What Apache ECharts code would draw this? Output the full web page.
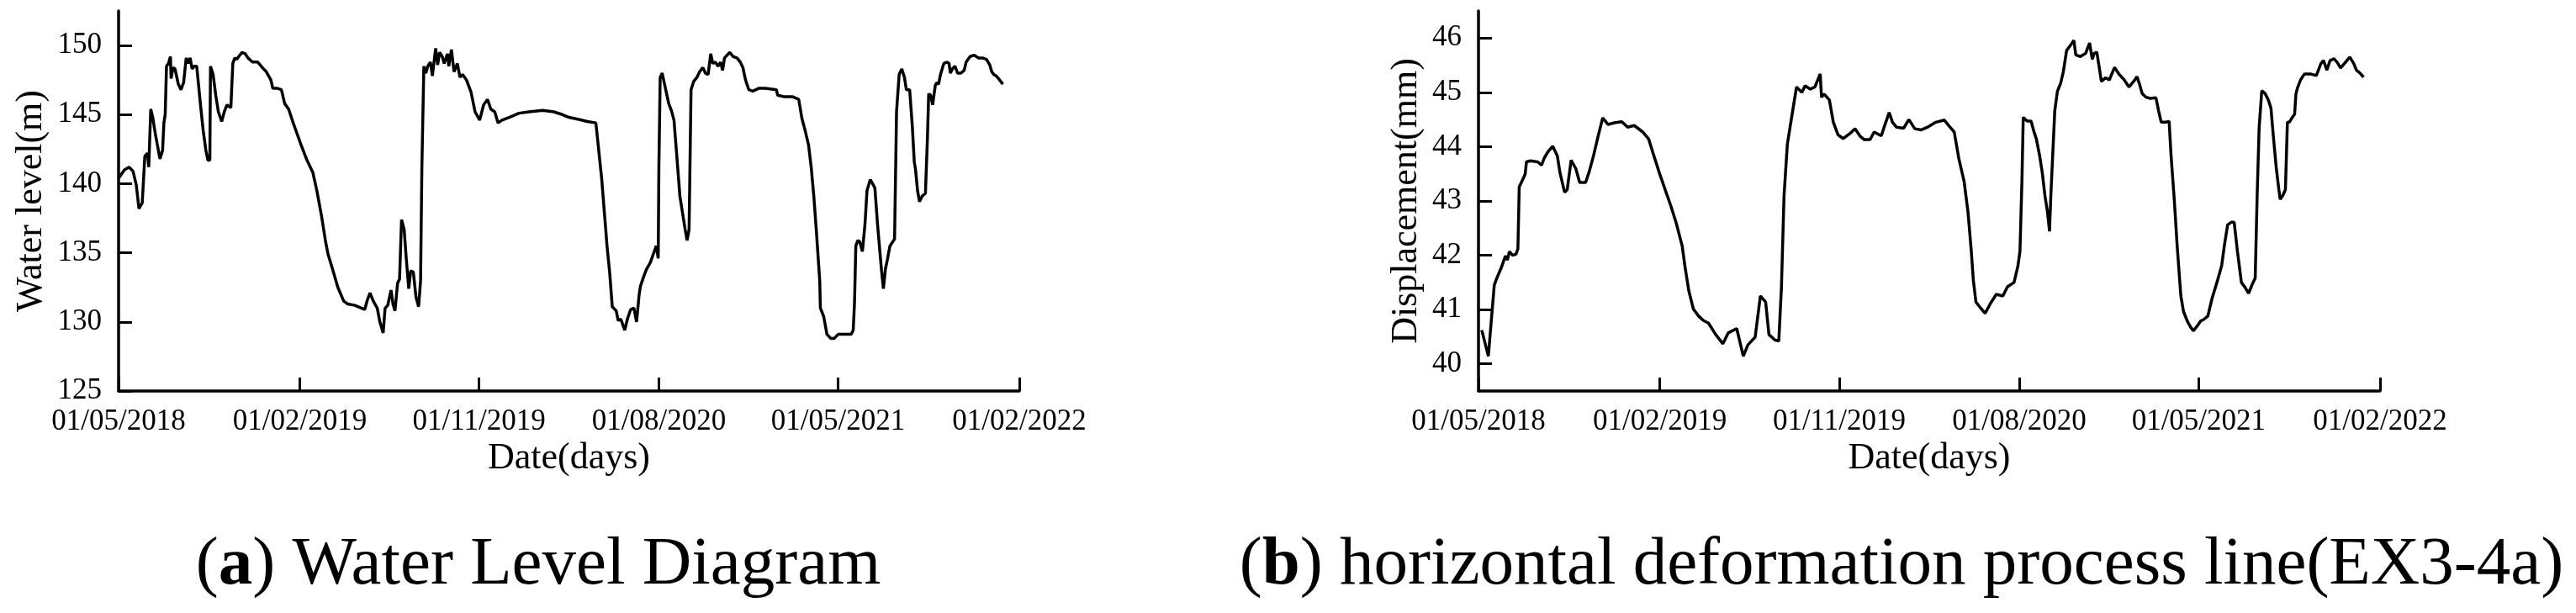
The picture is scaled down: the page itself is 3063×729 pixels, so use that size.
<!DOCTYPE html>
<html>
<head>
<meta charset="utf-8">
<title>Water level and displacement</title>
<script src="https://cdn.jsdelivr.net/npm/echarts@6/dist/echarts.min.js"></script>
<style>
  html, body { margin: 0; padding: 0; background: #fff; }
  #chart { width: 3063px; height: 729px; }
</style>
</head>
<body>
<div id="chart"></div>
<script>
// days counted from 01/05/2018
const startDate = '2018-05-01';

// (a) reservoir water level (m)
const waterDays = [0, 9, 16, 22, 27, 31, 36, 40, 44, 46, 49, 52, 56, 63, 67, 69, 71, 73, 76, 79, 80, 83, 86, 91, 95, 99, 103, 106, 109, 112, 115, 119, 125, 129, 133, 136, 139, 140, 144, 148, 152, 157, 161, 165, 171, 174, 177, 180, 183, 188, 193, 197, 204, 212, 219, 225, 232, 235, 242, 248, 253, 259, 266, 272, 278, 287, 296, 302, 309, 315, 319, 326, 334, 343, 349, 360, 375, 379, 383, 388, 394, 398, 403, 406, 410, 415, 418, 421, 425, 428, 431, 435, 438, 442, 445, 449, 453, 457, 460, 462, 465, 468, 471, 475, 478, 483, 486, 489, 493, 496, 501, 503, 507, 511, 516, 520, 524, 530, 537, 543, 550, 556, 562, 567, 573, 578, 584, 595, 610, 625, 646, 663, 676, 686, 701, 714, 727, 731, 736, 740, 744, 748, 752, 758, 761, 765, 771, 775, 780, 785, 789, 793, 795, 800, 804, 810, 816, 819, 822, 823, 825, 828, 833, 838, 842, 846, 850, 855, 859, 863, 866, 869, 872, 876, 881, 885, 890, 894, 898, 902, 905, 909, 913, 917, 920, 923, 931, 936, 942, 947, 951, 955, 960, 966, 975, 985, 1002, 1004, 1013, 1026, 1036, 1041, 1045, 1051, 1055, 1059, 1063, 1068, 1069, 1074, 1079, 1085, 1090, 1096, 1105, 1116, 1119, 1121, 1123, 1126, 1129, 1133, 1137, 1140, 1145, 1152, 1156, 1162, 1165, 1168, 1171, 1175, 1182, 1185, 1189, 1193, 1197, 1200, 1205, 1209, 1212, 1214, 1217, 1220, 1224, 1229, 1232, 1234, 1237, 1240, 1244, 1246, 1249, 1252, 1257, 1262, 1265, 1267, 1270, 1274, 1278, 1283, 1288, 1291, 1297, 1303, 1310, 1316, 1322, 1327, 1330, 1333, 1337, 1342, 1347];
const waterLevel = [140.4, 141.0, 141.2, 140.9, 139.9, 138.2, 138.6, 142.0, 142.2, 141.2, 145.4, 144.8, 143.6, 141.8, 142.4, 144.4, 145.0, 148.5, 148.7, 149.2, 147.6, 148.4, 148.3, 147.2, 146.8, 147.3, 149.1, 148.7, 149.1, 148.3, 148.5, 148.5, 145.6, 143.8, 142.4, 141.7, 141.7, 148.5, 147.9, 146.4, 145.2, 144.5, 145.2, 145.7, 145.5, 148.7, 149.1, 149.0, 149.2, 149.5, 149.4, 149.1, 148.8, 148.8, 148.4, 148.1, 147.5, 146.9, 146.9, 146.8, 145.8, 145.4, 144.4, 143.6, 142.8, 141.7, 140.8, 139.5, 137.7, 135.9, 134.9, 133.8, 132.5, 131.5, 131.3, 131.2, 130.9, 131.6, 132.1, 131.5, 131.0, 130.0, 129.2, 131.0, 131.2, 132.3, 131.3, 130.8, 132.8, 133.1, 137.4, 136.7, 134.7, 132.4, 133.7, 133.6, 131.8, 131.1, 133.0, 141.2, 148.5, 148.0, 148.5, 148.8, 147.8, 149.8, 148.6, 149.5, 149.2, 148.7, 149.4, 148.5, 149.7, 148.1, 148.7, 147.7, 147.9, 147.5, 146.6, 145.2, 144.6, 145.7, 146.1, 145.4, 145.2, 144.4, 144.6, 144.8, 145.1, 145.2, 145.3, 145.2, 145.0, 144.8, 144.65, 144.5, 144.4, 142.6, 140.3, 137.9, 135.5, 133.6, 131.1, 130.8, 130.1, 130.2, 129.4, 130.2, 130.9, 131.0, 130.0, 132.0, 132.6, 133.3, 133.8, 134.3, 135.1, 135.5, 134.6, 141.2, 147.7, 148.0, 146.9, 145.8, 145.3, 144.6, 142.2, 139.1, 137.9, 136.7, 135.9, 136.7, 146.8, 147.4, 147.7, 148.1, 148.4, 148.0, 147.9, 149.4, 148.7, 148.8, 148.5, 148.8, 148.2, 149.1, 149.5, 149.2, 149.1, 148.8, 148.4, 147.5, 146.8, 146.7, 146.9, 146.9, 146.8, 146.4, 146.3, 146.3, 146.1, 144.7, 144.0, 142.8, 141.2, 139.1, 136.5, 133.0, 131.0, 130.4, 129.1, 128.8, 128.8, 129.1, 129.1, 129.1, 129.4, 131.4, 135.5, 135.9, 135.8, 135.1, 137.1, 139.5, 140.3, 139.7, 137.1, 133.8, 132.4, 133.8, 134.5, 135.5, 136.0, 145.2, 147.9, 148.3, 147.7, 146.8, 146.8, 144.2, 141.6, 141.0, 139.5, 138.7, 139.1, 139.3, 143.2, 146.5, 146.4, 145.7, 147.1, 147.3, 147.2, 147.9, 148.7, 148.8, 148.7, 148.0, 148.3, 148.5, 148.0, 148.0, 148.2, 148.8, 149.2, 149.3, 149.1, 149.1, 149.0, 148.6, 148.1, 147.9, 147.8, 147.5, 147.2];

// (b) horizontal displacement EX3-4a (mm)
const dispDays = [5, 15, 24, 28, 35, 41, 44, 47, 52, 57, 60, 62, 66, 71, 73, 79, 90, 96, 100, 106, 113, 120, 124, 131, 135, 141, 148, 154, 163, 168, 175, 182, 189, 197, 207, 218, 227, 237, 250, 259, 267, 276, 284, 293, 301, 310, 314, 320, 327, 335, 342, 350, 361, 372, 380, 393, 403, 410, 421, 429, 437, 442, 451, 457, 461, 465, 470, 476, 484, 492, 497, 505, 512, 520, 522, 526, 534, 540, 547, 555, 566, 573, 581, 587, 596, 602, 613, 619, 625, 630, 636, 647, 655, 664, 674, 685, 696, 709, 717, 724, 731, 739, 745, 750, 753, 757, 764, 771, 779, 788, 798, 805, 815, 821, 824, 827, 829, 835, 841, 845, 849, 854, 858, 862, 866, 869, 871, 875, 877, 881, 886, 890, 895, 901, 906, 909, 916, 924, 930, 934, 937, 941, 948, 954, 960, 968, 975, 982, 990, 997, 1002, 1006, 1010, 1016, 1022, 1031, 1035, 1039, 1046, 1051, 1054, 1059, 1063, 1067, 1069, 1073, 1079, 1084, 1088, 1094, 1099, 1104, 1110, 1116, 1125, 1131, 1135, 1140, 1146, 1150, 1155, 1161, 1167, 1172, 1177, 1182, 1185, 1188, 1192, 1197, 1202, 1206, 1210, 1214, 1218, 1220, 1224, 1228, 1231, 1234, 1238, 1242, 1244, 1246, 1251, 1257, 1266, 1275, 1282, 1286, 1291, 1296, 1302, 1307, 1312, 1319, 1326, 1332, 1336, 1341, 1347];
const displacement = [40.62, 40.14, 41.45, 41.58, 41.78, 41.99, 41.91, 42.07, 42.0, 42.02, 42.12, 43.26, 43.36, 43.49, 43.72, 43.74, 43.72, 43.66, 43.79, 43.91, 44.01, 43.83, 43.52, 43.16, 43.21, 43.75, 43.6, 43.34, 43.34, 43.52, 43.83, 44.19, 44.53, 44.41, 44.44, 44.46, 44.36, 44.39, 44.27, 44.14, 43.83, 43.49, 43.21, 42.9, 42.59, 42.17, 41.81, 41.35, 41.01, 40.88, 40.8, 40.75, 40.54, 40.37, 40.57, 40.65, 40.14, 40.35, 40.49, 41.25, 41.14, 40.54, 40.44, 40.42, 41.4, 43.1, 44.04, 44.5, 45.1, 45.0, 45.12, 45.06, 45.1, 45.34, 44.91, 44.97, 44.86, 44.45, 44.22, 44.15, 44.25, 44.33, 44.19, 44.13, 44.13, 44.27, 44.2, 44.42, 44.63, 44.45, 44.36, 44.34, 44.5, 44.33, 44.31, 44.37, 44.45, 44.49, 44.37, 44.27, 43.78, 43.36, 42.79, 42.07, 41.55, 41.14, 41.03, 40.93, 41.11, 41.28, 41.25, 41.42, 41.5, 41.81, 42.07, 43.36, 44.54, 44.47, 44.47, 44.29, 44.14, 43.83, 43.52, 43.1, 42.79, 42.44, 43.1, 44.14, 44.66, 45.02, 45.17, 45.38, 45.77, 45.87, 45.96, 45.69, 45.66, 45.72, 45.91, 45.61, 45.72, 45.74, 45.2, 45.27, 45.23, 45.46, 45.33, 45.24, 45.1, 45.2, 45.29, 45.15, 44.98, 44.91, 44.89, 44.9, 44.66, 44.45, 44.45, 44.47, 43.83, 43.0, 42.22, 41.55, 41.24, 40.96, 40.78, 40.67, 40.61, 40.7, 40.79, 40.82, 40.88, 41.19, 41.55, 41.81, 42.17, 42.56, 42.61, 42.61, 42.07, 41.5, 41.4, 41.3, 41.45, 41.58, 43.1, 44.35, 45.03, 44.98, 44.86, 44.71, 44.14, 43.62, 43.21, 43.03, 43.1, 43.21, 44.45, 44.45, 44.53, 44.6, 44.97, 45.07, 45.23, 45.34, 45.34, 45.31, 45.53, 45.59, 45.41, 45.59, 45.62, 45.55, 45.45, 45.55, 45.65, 45.53, 45.41, 45.36, 45.28];

// axis ticks
const tickDates = ['2018-05-01', '2019-02-01', '2019-11-01', '2020-08-01', '2021-05-01', '2022-02-01'];
const tickLabels = ['01/05/2018', '01/02/2019', '01/11/2019', '01/08/2020', '01/05/2021', '01/02/2022'];
const waterTicks = [125, 130, 135, 140, 145, 150];
const dispTicks = [40, 41, 42, 43, 44, 45, 46];

const FONT = '"Liberation Serif", "Times New Roman", serif';
const DAY = 86400000;

function toUTC(s) {
  const p = s.split('-').map(Number);
  return Date.UTC(p[0], p[1] - 1, p[2]);
}
const t0 = toUTC(startDate);
const tickDays = tickDates.map(d => Math.round((toUTC(d) - t0) / DAY));

function zip(xs, ys) {
  return xs.map((x, i) => [x, ys[i]]);
}

const axisLine = { show: true, lineStyle: { color: '#000', width: 3.5 } };
const axisTickBase = { show: true, inside: true, length: 16, lineStyle: { color: '#000', width: 3 } };

function makeX(gridIndex) {
  return {
    type: 'value',
    gridIndex: gridIndex,
    min: 0,
    max: tickDays[tickDays.length - 1],
    name: 'Date(days)',
    nameLocation: 'middle',
    nameGap: 43,
    nameTextStyle: { fontFamily: FONT, fontSize: 44, color: '#000' },
    axisLine: axisLine,
    axisTick: Object.assign({ customValues: tickDays }, axisTickBase),
    axisLabel: {
      customValues: tickDays,
      margin: 19,
      fontFamily: FONT,
      fontSize: 35,
      color: '#000',
      formatter: v => tickLabels[tickDays.indexOf(Math.round(v))] || ''
    },
    splitLine: { show: false }
  };
}

function makeY(gridIndex, min, max, ticks, name, gap) {
  return {
    type: 'value',
    gridIndex: gridIndex,
    min: min,
    max: max,
    name: name,
    nameLocation: 'middle',
    nameGap: gap,
    nameTextStyle: { fontFamily: FONT, fontSize: 44, color: '#000' },
    axisLine: axisLine,
    axisTick: Object.assign({ customValues: ticks }, axisTickBase),
    axisLabel: {
      customValues: ticks,
      margin: 20,
      fontFamily: FONT,
      fontSize: 35,
      color: '#000'
    },
    splitLine: { show: false }
  };
}

const chart = echarts.init(document.getElementById('chart'), null, { renderer: 'canvas' });

chart.setOption({
  backgroundColor: '#fff',
  animation: false,
  grid: [
    { left: 141, top: 13, width: 1071, height: 452 },
    { left: 1758, top: 13, width: 1072, height: 452 }
  ],
  xAxis: [makeX(0), makeX(1)],
  yAxis: [
    makeY(0, 125, 152.5, waterTicks, 'Water level(m)', 82),
    makeY(1, 39.5, 46.5, dispTicks, 'Displacement(mm)', 64)
  ],
  series: [
    {
      name: 'Water level',
      type: 'line',
      xAxisIndex: 0,
      yAxisIndex: 0,
      showSymbol: false,
      lineStyle: { color: '#000', width: 3.5 },
      data: zip(waterDays, waterLevel)
    },
    {
      name: 'Displacement',
      type: 'line',
      xAxisIndex: 1,
      yAxisIndex: 1,
      showSymbol: false,
      lineStyle: { color: '#000', width: 3.5 },
      data: zip(dispDays, displacement)
    }
  ],
  graphic: [
    {
      type: 'text',
      x: 640,
      y: 673,
      style: {
        text: '({b|a}) Water Level Diagram',
        font: '81px ' + FONT,
        fill: '#000',
        align: 'center',
        verticalAlign: 'middle',
        rich: { b: { fontWeight: 'bold', fontSize: 81, fontFamily: FONT } }
      }
    },
    {
      type: 'text',
      x: 2261,
      y: 673,
      style: {
        text: '({b|b}) horizontal deformation process line(EX3-4a)',
        font: '81px ' + FONT,
        fill: '#000',
        align: 'center',
        verticalAlign: 'middle',
        rich: { b: { fontWeight: 'bold', fontSize: 81, fontFamily: FONT } }
      }
    }
  ]
});
</script>
</body>
</html>
